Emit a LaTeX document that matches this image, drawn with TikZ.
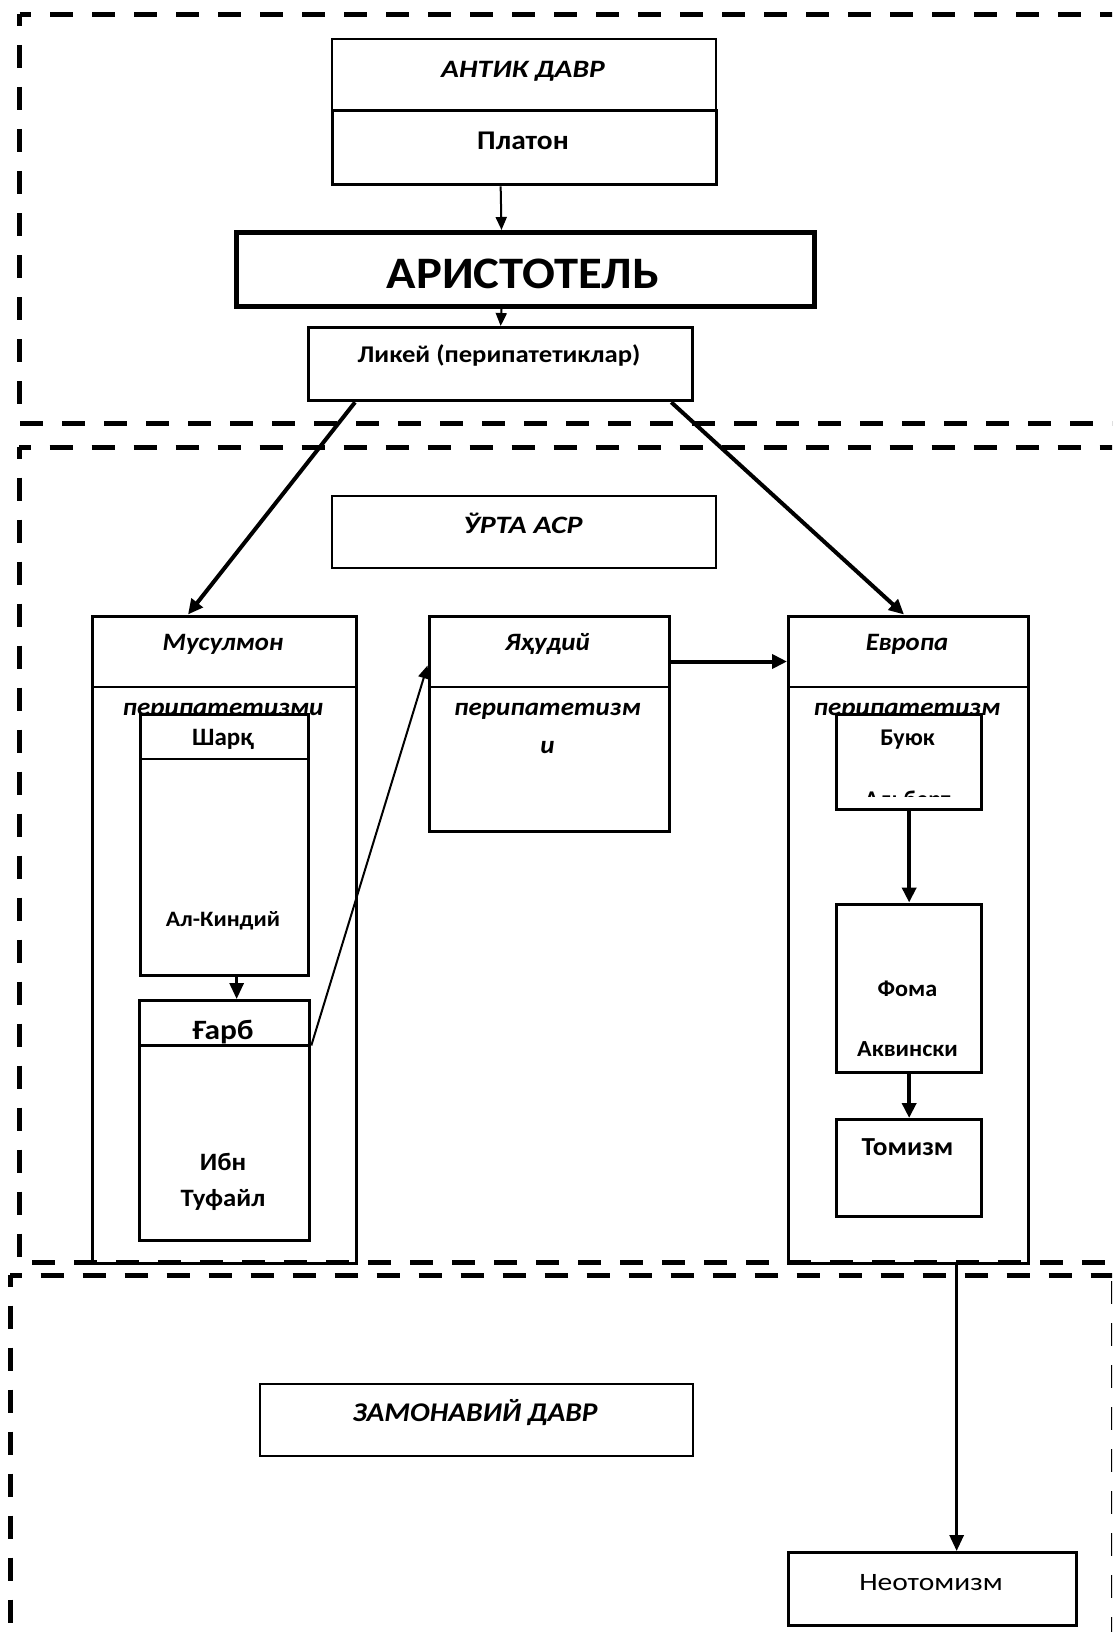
\documentclass[tikz,border=0pt]{standalone}
\usepackage{fontspec}
\setmainfont{Carlito}
\usetikzlibrary{arrows.meta,calc}
\newcommand{\fst}[2]{\fontsize{#1pt}{#1pt}\selectfont\addfontfeature{FakeStretch=#2}}
\begin{document}
\begin{tikzpicture}[x=1pt,y=-1pt,
  sect/.style={line width=5pt, dash pattern=on 23pt off 19pt},
  bx/.style={draw=black, fill=white, inner sep=0pt, anchor=north west, line width=3.3pt},
  bxthin/.style={bx, line width=1.7pt},
  bxthick/.style={bx, line width=5pt},
  divline/.style={line width=2pt},
  txt/.style={inner sep=0pt, anchor=base},
  thinarr/.style={line width=2pt, -{Triangle[length=13pt,width=11pt]}},
  thickarr/.style={line width=4pt, -{Triangle[length=15pt,width=14pt]}},
  midarr/.style={line width=3pt, -{Triangle[length=16pt,width=14pt]}}
]
\path[use as bounding box] (0,0) rectangle (1112,1632);
\clip (0,0) rectangle (1112,1632);
\fill[white] (0,0) rectangle (1112,1632);

% ---------- section frames ----------
\draw[sect,dash phase=11.5pt] (19.5,14.5) -- (1130,14.5);
\draw[sect,dash phase=11.5pt] (19.5,14.5) -- (19.5,423);
\draw[sect] (20,423) -- (1130,423);
\draw[sect,dash phase=11.5pt] (19,447) -- (1130,447);
\draw[sect,dash phase=11.5pt] (19,447) -- (19,1262.5);

% ---------- antique period ----------
\node[bxthin, minimum width=384pt, minimum height=70.5pt] (antik) at (331,38.5) {};
\node[bx, minimum width=384pt, minimum height=74pt] (platon) at (331,109) {};
\node[bxthick, minimum width=578pt, minimum height=74pt] (arist) at (234,230) {};
\node[bx, minimum width=384pt, minimum height=73pt] (likey) at (307,326) {};
\node[txt, font=\bfseries\itshape\fst{25}{1.18}] (tantik) at (523,77.3) {АНТИК ДАВР};
\node[txt, font=\bfseries\fst{27}{1.09}] (tplaton) at (523,150) {Платон};
\node[txt, font=\bfseries\fst{45}{1.08}] (tarist) at (523,288.3) {АРИСТОТЕЛЬ};
\node[txt, font=\bfseries\fst{24}{1.11}] (tlikey) at (499,362.7) {Ликей (перипатетиклар)};

% ---------- middle ages ----------
\node[bxthin, line width=1.5pt, minimum width=384pt, minimum height=72pt] (urta) at (331,495) {};
\node[txt, font=\bfseries\itshape\fst{25}{1.2}] (turta) at (523,533.5) {ЎРТА АСР};

\node[bx, minimum width=264pt, minimum height=647.5pt] (musul) at (91,614.5) {};
\draw[divline] (91,686.5) -- (355,686.5);
\node[txt, font=\bfseries\itshape\fst{25}{1.07}] (tmusul) at (223,650.7) {Мусулмон};
\node[txt, font=\bfseries\itshape\fst{25}{1.08}] (tmusul2) at (223,715) {перипатетизми};

\node[bx, minimum width=240pt, minimum height=215.5pt] (yahud) at (427.5,614.5) {};
\draw[divline] (427.5,686.5) -- (667.5,686.5);
\node[txt, font=\bfseries\itshape\fst{25}{1.08}] (tyahud) at (547.5,650.7) {Яҳудий};
\node[txt, font=\bfseries\itshape\fst{25}{1.08}] (tyahud2) at (547.5,715) {перипатетизм};
\node[txt, font=\bfseries\itshape\fst{25}{1.08}] (tyahud3) at (547.5,753) {и};

\node[bx, minimum width=240pt, minimum height=647.5pt] (evropa) at (787,614.5) {};
\draw[divline] (787,686.5) -- (1027,686.5);
\node[txt, font=\bfseries\itshape\fst{25}{1.07}] (tevropa) at (907,650.7) {Европа};
\node[txt, font=\bfseries\itshape\fst{25}{1.08}] (tevropa2) at (907,715) {перипатетизм};

% inner boxes, left column
\node[bx, minimum width=168pt, minimum height=261.5pt] (sharq) at (139,712.5) {};
\draw[divline] (139,759) -- (307,759);
\node[txt, font=\bfseries\fst{25}{1.0}] (tsharq) at (223,745.7) {Шарқ};
\node[txt, font=\bfseries\fst{22}{1.08}] (tkindi) at (223,926) {Ал-Киндий};

\node[bx, minimum width=170pt, minimum height=240pt] (garb) at (138,999) {};
\draw[line width=2.7pt] (138,1045.5) -- (308,1045.5);
\node[txt, font=\bfseries\fst{28}{1.12}] (tgarb) at (223,1039.3) {Ғарб};
\node[txt, font=\bfseries\fst{25}{1.07}] (tibn) at (223,1170.7) {Ибн};
\node[txt, font=\bfseries\fst{25}{1.07}] (ttuf) at (223,1206.5) {Туфайл};

% inner boxes, right column
\node[bx, minimum width=145pt, minimum height=95pt] (buyuk) at (835,712.5) {};
\node[txt, font=\bfseries\fst{24}{1.0}] (tbuyuk) at (907.5,745.7) {Буюк};
\begin{scope}
\clip (836.65,714.15) rectangle (978.35,796);
\node[txt, font=\bfseries\fst{24}{1.0}] (talbert) at (907.5,807) {Альберт};
\end{scope}

\node[bx, minimum width=145pt, minimum height=168pt] (foma) at (835,902.5) {};
\node[txt, font=\bfseries\fst{23}{1.05}] (tfoma) at (907.5,996.7) {Фома};
\node[txt, font=\bfseries\fst{23}{1.05}] (takv) at (907.5,1056.7) {Аквински};

\node[bx, minimum width=145pt, minimum height=97pt] (tomizm) at (835,1118) {};
\node[txt, font=\bfseries\fst{26}{1.05}] (ttomizm) at (907.5,1155) {Томизм};

% ---------- section frames (lower) ----------
\draw[sect] (32,1262.5) -- (1130,1262.5);
\draw[sect,dash phase=11.5pt] (10,1275) -- (1113,1275);
\draw[sect,dash phase=11.5pt] (10,1275) -- (10,1640);
\draw[sect,dash phase=36pt] (1113,1275) -- (1113,1640);

% ---------- modern period ----------
\node[bx, line width=2pt, minimum width=432.5pt, minimum height=72pt] (zamon) at (259,1383) {};
\node[txt, font=\bfseries\itshape\fst{27}{1.09}] (tzamon) at (475,1421.7) {ЗАМОНАВИЙ ДАВР};
\node[bx, minimum width=288pt, minimum height=73pt] (neot) at (787,1551) {};
\node[txt, font=\fst{25}{1.18}] (tneot) at (931,1590.7) {Неотомизм};

% ---------- connectors ----------
\draw[thinarr] ($(platon.south)+(-24,0)$) -- ($(arist.north)+(-24,0)$);
\draw[thinarr] ($(arist.south)+(-24,0)$) -- (likey.north);
\draw[thickarr] ($(likey.south west)+(48,0)$) -- ($(musul.north west)+(97,0)$);
\draw[thickarr] ($(likey.south east)+(-23,0)$) -- ($(evropa.north west)+(117,0)$);
\draw[thinarr] ($(garb.north east)+(0,46.5)$) -- ($(yahud.north west)+(0,51)$);
\draw[thickarr] ($(yahud.north east)+(0,47)$) -- ($(evropa.north west)+(0,47)$);
\draw[midarr] ($(sharq.south)+(12,0)$) -- ($(garb.north)+(12,0)$);
\draw[thickarr] (buyuk.south) -- (foma.north);
\draw[thickarr] (foma.south) -- (tomizm.north);
\draw[midarr] ($(evropa.south)+(48,0)$) -- ($(neot.north)+(24,0)$);
\end{tikzpicture}
\end{document}
